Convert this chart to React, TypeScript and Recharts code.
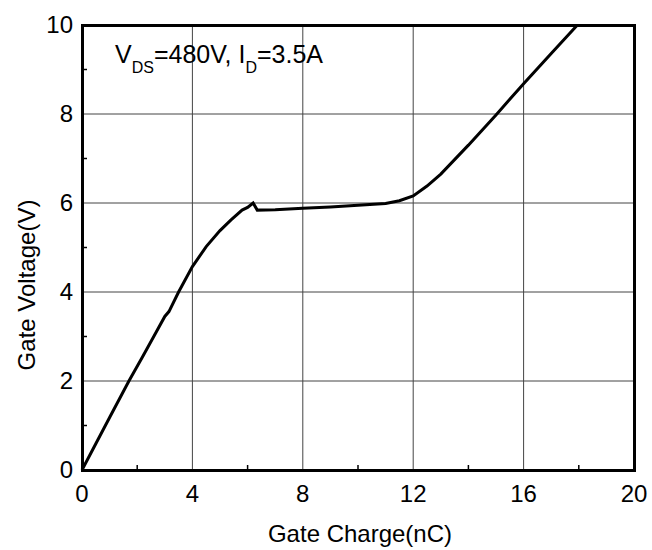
import { CartesianGrid, Customized, Line, LineChart, XAxis, YAxis } from "recharts";

const charge = [0, 0.5, 1.0, 1.7, 2.2, 2.6, 3.0, 3.15, 3.5, 4.0, 4.5, 5.0, 5.4, 5.8, 6.0, 6.2, 6.35, 7.0, 8.0, 9.0, 10.0, 11.0, 11.5, 12.0, 12.5, 13.0, 14.0, 15.0, 16.0, 17.0, 17.95];
const voltage = [0, 0.59, 1.18, 2.0, 2.55, 3.0, 3.45, 3.56, 4.0, 4.57, 5.02, 5.38, 5.62, 5.84, 5.9, 6.0, 5.84, 5.85, 5.88, 5.91, 5.95, 5.99, 6.05, 6.16, 6.38, 6.65, 7.3, 7.98, 8.68, 9.36, 10.0];

const xTicks = [0, 2, 4, 6, 8, 10, 12, 14, 16, 18, 20];
const yTicks = [0, 1, 2, 3, 4, 5, 6, 7, 8, 9, 10];
const xMajor = [0, 4, 8, 12, 16, 20];
const yMajor = [0, 2, 4, 6, 8, 10];

const data = charge.map((q, i) => ({ q, v: voltage[i] }));

const FONT = "'Liberation Sans', Arial, sans-serif";
const PLOT = { left: 82, top: 25, width: 552, height: 445 };

function BottomTick({ x, y, payload }: any) {
  const major = xMajor.includes(payload.value);
  return (
    <g>
      {!major && <line x1={x} x2={x} y1={y - 15} y2={y - 20} stroke="#000" strokeWidth={1.5} />}
      {major && (
        <text x={x} y={y + 17} textAnchor="middle" fontSize={24} fontFamily={FONT} fill="#000">
          {payload.value}
        </text>
      )}
    </g>
  );
}

function TopTick({ x, y, payload }: any) {
  if (xMajor.includes(payload.value)) return <g />;
  return <line x1={x} x2={x} y1={y} y2={y + 5} stroke="#000" strokeWidth={1.5} />;
}

function LeftTick({ x, y, payload }: any) {
  const major = yMajor.includes(payload.value);
  return (
    <g>
      {!major && <line x1={x + 9} x2={x + 14} y1={y} y2={y} stroke="#000" strokeWidth={1.5} />}
      {major && (
        <text x={x} y={y + 8} textAnchor="end" fontSize={24} fontFamily={FONT} fill="#000">
          {payload.value}
        </text>
      )}
    </g>
  );
}

function RightTick({ x, y }: any) {
  return <line x1={x} x2={x + 3} y1={y} y2={y} stroke="#000" strokeWidth={1.5} />;
}

function Labels() {
  return (
    <g fontFamily={FONT} fill="#000">
      <text x={360} y={542} textAnchor="middle" fontSize={24}>
        Gate Charge(nC)
      </text>
      <text x={35} y={285} textAnchor="middle" fontSize={24} transform="rotate(-90, 35, 285)">
        Gate Voltage(V)
      </text>
      <text x={115} y={63} fontSize={25}>
        <tspan>V</tspan>
        <tspan fontSize={16} dy={10}>DS</tspan>
        <tspan dy={-10}>=480V, I</tspan>
        <tspan fontSize={16} dy={10}>D</tspan>
        <tspan dy={-10}>=3.5A</tspan>
      </text>
    </g>
  );
}

export default function App() {
  return (
    <div style={{ position: "absolute", left: 0, top: 0, width: 652, height: 550, background: "#fff" }}>
      <LineChart width={652} height={550} data={data} margin={{ top: 25, right: 0, bottom: 0, left: 0 }}>
        <CartesianGrid
          xAxisId="b"
          yAxisId="l"
          stroke="#444"
          strokeWidth={1}
          horizontalValues={yMajor}
          verticalValues={xMajor}
        />
        <Line
          xAxisId="b"
          yAxisId="l"
          dataKey="v"
          type="linear"
          stroke="#000"
          strokeWidth={3}
          dot={false}
          isAnimationActive={false}
        />
        <XAxis
          xAxisId="b"
          dataKey="q"
          type="number"
          domain={[0, 20]}
          ticks={xTicks}
          height={80}
          tickSize={0}
          tickMargin={15}
          tick={<BottomTick />}
          axisLine={false}
          interval={0}
        />
        <XAxis
          xAxisId="t"
          dataKey="q"
          type="number"
          orientation="top"
          domain={[0, 20]}
          ticks={xTicks}
          height={0}
          tickSize={0}
          tickMargin={0}
          tick={<TopTick />}
          axisLine={false}
          interval={0}
        />
        <YAxis
          yAxisId="l"
          type="number"
          domain={[0, 10]}
          ticks={yTicks}
          width={82}
          tickSize={0}
          tickMargin={9}
          tick={<LeftTick />}
          axisLine={false}
          interval={0}
        />
        <YAxis
          yAxisId="r"
          orientation="right"
          type="number"
          domain={[0, 10]}
          ticks={yTicks}
          width={18}
          tickSize={0}
          tickMargin={0}
          tick={<RightTick />}
          axisLine={false}
          interval={0}
        />
        <Customized component={Labels} />
      </LineChart>
      {/* thick frame around the plot area */}
      <div
        style={{
          position: "absolute",
          left: PLOT.left - 1.5,
          top: PLOT.top - 1.5,
          width: PLOT.width + 3,
          height: PLOT.height + 3,
          border: "3px solid #000",
          boxSizing: "border-box",
          pointerEvents: "none",
        }}
      />
    </div>
  );
}
